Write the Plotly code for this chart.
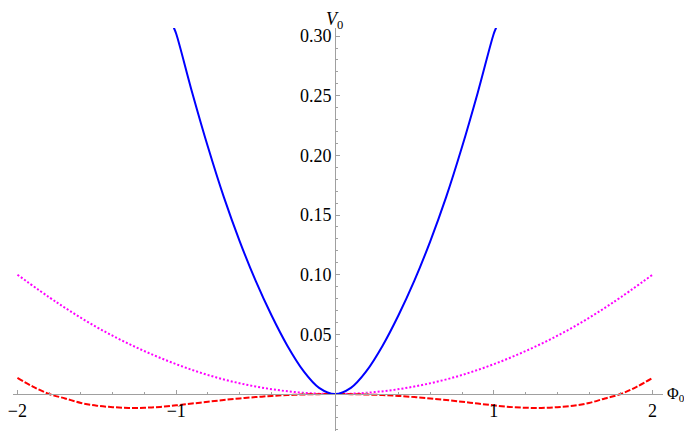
import plotly.graph_objects as go

# values
phi_blue = [-1.015, -1.0, -0.9, -0.8, -0.7, -0.6, -0.5, -0.4, -0.3, -0.2, -0.1, 0.0,
            0.1, 0.2, 0.3, 0.4, 0.5, 0.6, 0.7, 0.8, 0.9, 1.0, 1.015]
v_blue = [0.307, 0.302, 0.253, 0.207, 0.165, 0.128, 0.095, 0.066, 0.0405, 0.0196, 0.0052, 0.0,
          0.0052, 0.0196, 0.0405, 0.066, 0.095, 0.128, 0.165, 0.207, 0.253, 0.302, 0.307]

phi_mag = [-2.0, -1.75, -1.5, -1.25, -1.0, -0.75, -0.5, -0.25, 0.0,
           0.25, 0.5, 0.75, 1.0, 1.25, 1.5, 1.75, 2.0]
v_mag = [0.100, 0.0766, 0.056, 0.039, 0.025, 0.014, 0.0063, 0.0016, 0.0,
         0.0016, 0.0063, 0.014, 0.025, 0.039, 0.056, 0.0766, 0.100]

phi_red = [-2.0, -1.9, -1.8, -1.7, -1.6, -1.5, -1.4, -1.3, -1.2, -1.1, -1.0, -0.9, -0.8, -0.7,
           -0.6, -0.5, -0.4, -0.3, -0.2, -0.1, 0.0,
           0.1, 0.2, 0.3, 0.4, 0.5, 0.6, 0.7, 0.8, 0.9, 1.0, 1.1, 1.2, 1.3, 1.4, 1.5, 1.6,
           1.7, 1.8, 1.9, 2.0]
v_red = [0.0135, 0.006, 0.0, -0.0037, -0.0075, -0.0098, -0.011, -0.0117, -0.0115, -0.0108,
         -0.0095, -0.008, -0.0065, -0.005, -0.0037, -0.0026, -0.0016, -0.0009, -0.0004, -0.0001, 0.0,
         -0.0001, -0.0004, -0.0009, -0.0016, -0.0026, -0.0037, -0.005, -0.0065, -0.008, -0.0095,
         -0.0108, -0.0115, -0.0117, -0.011, -0.0098, -0.0075, -0.0037, 0.0, 0.006, 0.0135]

x_ticks = [-2, -1, 1, 2]
x_labels = ['\u22122', '\u22121', '1', '2']
y_ticks = [0.05, 0.10, 0.15, 0.20, 0.25, 0.30]
y_labels = ['0.05', '0.10', '0.15', '0.20', '0.25', '0.30']

# page body has an 8px margin all round, so keep the figure inside the window
xr = [-2.028, 2.066]
yr = [-0.031, 0.3068]

serif = 'Liberation Serif'
font = dict(family=serif, size=18, color='black')
axcol = '#a0a0a0'

fig = go.Figure()
fig.add_trace(go.Scatter(x=phi_mag, y=v_mag, mode='lines', line_shape='spline',
                         line=dict(color='#ff00ff', width=2, dash='2px,2px')))
fig.add_trace(go.Scatter(x=phi_red, y=v_red, mode='lines', line_shape='spline',
                         line=dict(color='#ff0000', width=2, dash='6px,2px')))
fig.add_trace(go.Scatter(x=phi_blue, y=v_blue, mode='lines', line_shape='spline',
                         line=dict(color='#0000ff', width=2)))

fig.update_layout(
    width=676, height=423,
    margin=dict(l=0, r=21, t=20, b=0),
    plot_bgcolor='white', paper_bgcolor='white',
    showlegend=False, font=font,
    xaxis=dict(range=xr, anchor='free', position=(0 - yr[0]) / (yr[1] - yr[0]),
               showgrid=False, zeroline=False, showline=True, linecolor=axcol, linewidth=1,
               tickvals=x_ticks, ticktext=x_labels, ticks='inside', ticklen=4, tickcolor=axcol,
               ticklabeloverflow='allow',
               minor=dict(tickvals=[-1.8, -1.6, -1.4, -1.2, -0.8, -0.6, -0.4, -0.2,
                                    0.2, 0.4, 0.6, 0.8, 1.2, 1.4, 1.6, 1.8],
                          ticks='inside', ticklen=2, tickcolor=axcol),
               tickfont=font),
    yaxis=dict(range=yr, anchor='free', position=(0 - xr[0]) / (xr[1] - xr[0]),
               showgrid=False, zeroline=False, showline=True, linecolor=axcol, linewidth=1,
               tickvals=y_ticks, ticktext=y_labels, ticks='inside', ticklen=4, tickcolor=axcol,
               ticklabeloverflow='allow',
               minor=dict(dtick=0.01, tick0=0, ticks='inside', ticklen=2, tickcolor=axcol),
               tickfont=font),
)

fig.add_annotation(x=0, y=1, xref='x', yref='paper', yshift=21, text='<i>V</i><sub>0</sub>',
                   showarrow=False, xanchor='center', yanchor='top',
                   font=dict(family=serif, size=18, color='black'))
fig.add_annotation(x=1, y=0, xref='paper', yref='y', xshift=2, text='\u03a6<sub>0</sub>',
                   showarrow=False, xanchor='left', yanchor='middle',
                   font=dict(family=serif, size=16, color='black'))

fig.write_html("out.html")
